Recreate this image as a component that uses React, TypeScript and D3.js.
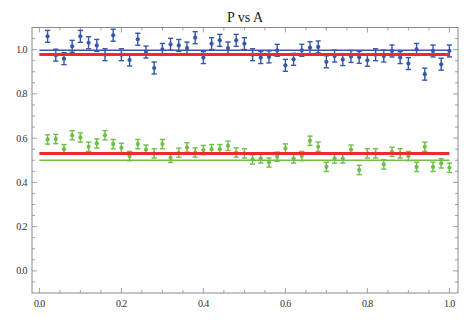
import React, { useEffect, useRef } from 'react'
import * as d3 from 'd3'

// x positions of samples
const aValues = d3.range(1, 51).map(i => i / 50)

// blue series (upper)
const blueP = [
  1.060, 0.975, 0.959, 1.015, 1.060, 1.031, 1.019, 0.977, 1.065, 0.977,
  0.953, 1.047, 0.989, 0.917, 1.001, 1.024, 1.019, 1.007, 1.054, 0.964,
  1.027, 1.042, 1.007, 1.042, 1.027, 0.977, 0.964, 0.967, 0.997, 0.929,
  0.956, 0.997, 1.009, 1.012, 0.945, 0.971, 0.955, 0.969, 0.965, 0.952,
  0.977, 0.971, 0.994, 0.964, 0.937, 1.001, 0.889, 0.994, 0.934, 0.994
]
const blueErr = 0.027

// green series (lower)
const greenP = [
  0.594, 0.596, 0.550, 0.613, 0.603, 0.561, 0.576, 0.613, 0.573, 0.556,
  0.519, 0.573, 0.548, 0.531, 0.573, 0.511, 0.534, 0.558, 0.535, 0.546,
  0.550, 0.550, 0.565, 0.535, 0.531, 0.504, 0.508, 0.490, 0.516, 0.553,
  0.508, 0.519, 0.588, 0.561, 0.470, 0.508, 0.508, 0.548, 0.456, 0.531,
  0.531, 0.481, 0.538, 0.531, 0.519, 0.470, 0.561, 0.470, 0.486, 0.466
]
const greenErr = 0.021

// horizontal reference levels
const blueLevel = 0.997
const greenLevel = 0.5
const redLevels = [0.978, 0.531]

const xTicks = [0, 0.2, 0.4, 0.6, 0.8, 1.0]
const yTicks = [0, 0.2, 0.4, 0.6, 0.8, 1.0]

const BLUE = '#3559a8'
const GREEN = '#6dbf48'
const RED = '#ee2a2a'

function Chart() {
  const ref = useRef<SVGSVGElement>(null)

  useEffect(() => {
    const svg = d3.select(ref.current)
    svg.selectAll('*').remove()

    const left = 32, right = 458, top = 27.5, bottom = 293
    const x = d3.scaleLinear().domain([-0.018, 1.021]).range([left, right])
    const y = d3.scaleLinear().domain([-0.1, 1.1]).range([bottom, top])

    // title
    svg.append('text')
      .attr('x', (left + right) / 2)
      .attr('y', 22)
      .attr('text-anchor', 'middle')
      .attr('font-family', 'Liberation Serif, serif')
      .attr('font-size', 14)
      .attr('fill', '#222')
      .text('P vs A')

    const frame = '#8a8a8a'
    const minorX = d3.range(0, 1.001, 0.05)
    const minorY = d3.range(-0.05, 1.1, 0.05)
    const isMajor = (v: number) => Math.abs(v * 5 - Math.round(v * 5)) < 1e-6

    const ticks = svg.append('g').attr('stroke', frame).attr('stroke-width', 0.8)
    minorX.forEach(v => {
      const len = isMajor(v) ? 5 : 3
      ticks.append('line').attr('x1', x(v)).attr('x2', x(v)).attr('y1', bottom).attr('y2', bottom - len)
      ticks.append('line').attr('x1', x(v)).attr('x2', x(v)).attr('y1', top).attr('y2', top + len)
    })
    minorY.forEach(v => {
      const len = isMajor(v) ? 5 : 3
      ticks.append('line').attr('x1', left).attr('x2', left + len).attr('y1', y(v)).attr('y2', y(v))
      ticks.append('line').attr('x1', right).attr('x2', right - len).attr('y1', y(v)).attr('y2', y(v))
    })

    svg.append('rect')
      .attr('x', left).attr('y', top)
      .attr('width', right - left).attr('height', bottom - top)
      .attr('fill', 'none').attr('stroke', frame).attr('stroke-width', 1)

    const fmt = d3.format('.1f')
    svg.append('g').selectAll('text').data(xTicks).join('text')
      .attr('x', d => x(d)).attr('y', bottom + 14)
      .attr('text-anchor', 'middle')
      .attr('font-family', 'Liberation Serif, serif').attr('font-size', 10)
      .attr('letter-spacing', -0.6)
      .attr('fill', '#333')
      .text(d => fmt(d))
    svg.append('g').selectAll('text').data(yTicks).join('text')
      .attr('x', left - 5).attr('y', d => y(d) + 3.5)
      .attr('text-anchor', 'end')
      .attr('font-family', 'Liberation Serif, serif').attr('font-size', 10)
      .attr('letter-spacing', -0.6)
      .attr('fill', '#333')
      .text(d => fmt(d))

    const drawSeries = (vals: number[], err: number, color: string) => {
      const g = svg.append('g')
      const pts = aValues.map((a, i) => ({ a, p: vals[i] }))
      const cap = 2.6
      pts.forEach(d => {
        const cx = x(d.a)
        const y1 = y(d.p - err), y2 = y(d.p + err)
        g.append('line').attr('x1', cx).attr('x2', cx).attr('y1', y1).attr('y2', y2)
          .attr('stroke', color).attr('stroke-width', 1.4)
        g.append('line').attr('x1', cx - cap).attr('x2', cx + cap).attr('y1', y1).attr('y2', y1)
          .attr('stroke', color).attr('stroke-width', 1.4)
        g.append('line').attr('x1', cx - cap).attr('x2', cx + cap).attr('y1', y2).attr('y2', y2)
          .attr('stroke', color).attr('stroke-width', 1.4)
        g.append('circle').attr('cx', cx).attr('cy', y(d.p)).attr('r', 2.1).attr('fill', color)
      })
    }

    const hline = (v: number, color: string, w: number) => {
      svg.append('line')
        .attr('x1', x(0)).attr('x2', x(1))
        .attr('y1', y(v)).attr('y2', y(v))
        .attr('stroke', color).attr('stroke-width', w)
    }

    drawSeries(blueP, blueErr, BLUE)
    drawSeries(greenP, greenErr, GREEN)
    hline(blueLevel, BLUE, 1.4)
    hline(greenLevel, GREEN, 1.4)
    redLevels.forEach(v => hline(v, RED, 3))
  }, [])

  return <svg ref={ref} width={471} height={322}
    style={{ position: 'absolute', left: 0, top: 0, background: '#fff' }} />
}

export default function App() {
  return <Chart />
}
